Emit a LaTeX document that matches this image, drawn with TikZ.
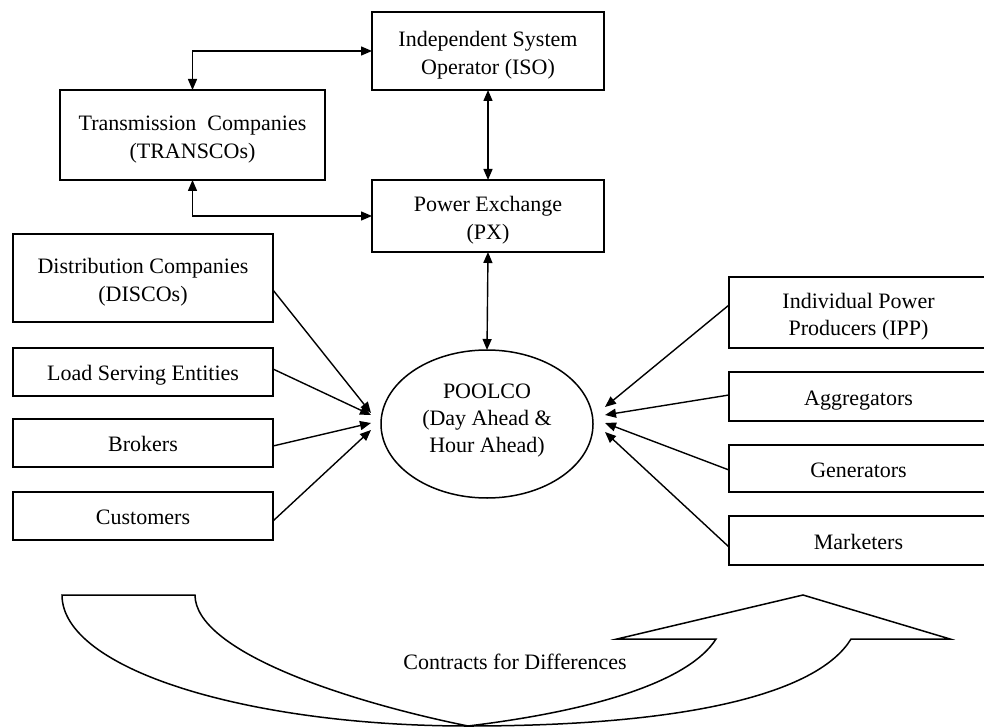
\documentclass[tikz,border=0pt]{standalone}
\usepackage{fontspec}
\setmainfont{Liberation Serif}
\usetikzlibrary{arrows.meta,shapes.geometric}
% centred block of lines, lowered slightly inside its frame
\newcommand{\boxlabel}[2][-2.1pt]{\raisebox{#1}[\height][\depth]{%
  \begin{tabular}{@{}c@{}}#2\end{tabular}}}
\begin{document}
\begin{tikzpicture}[x=0.5pt,y=-0.5pt,
  font=\fontsize{11}{13.75}\selectfont,
  every path/.style={line width=0.7pt},
  box/.style={draw,rectangle,inner sep=0pt,outer sep=0pt,line width=0.75pt},
  sidebox/.style={box,minimum width=130pt},
  pipe/.style={-{Triangle[length=5.5pt,width=4.5pt]}},
  twoway/.style={{Triangle[length=5.5pt,width=4.5pt]}-{Triangle[length=5.5pt,width=4.5pt]}}]
\useasboundingbox (0,0) rectangle (984,727);

% market operators
\node[box,minimum width=116pt,minimum height=39pt] (iso) at (488,51)
  {\boxlabel{Independent System\\Operator (ISO)}};
\node[box,minimum width=132.5pt,minimum height=45pt] (trans) at (192.5,135)
  {\boxlabel{Transmission\ \ Companies\\(TRANSCOs)}};
\node[box,minimum width=116pt,minimum height=36pt] (px) at (488,216)
  {\boxlabel{Power Exchange\\(PX)}};
\node[draw,ellipse,inner sep=0pt,outer sep=0pt,minimum width=106pt,
  minimum height=74pt,line width=0.75pt,font=\fontsize{11}{13.5}\selectfont]
  (pool) at (487,424)
  {\boxlabel[2pt]{POOLCO\\(Day Ahead \&\\Hour Ahead)}};

% buyers
\node[sidebox,minimum height=44pt] (disco) at (143,278)
  {\boxlabel{Distribution Companies\\(DISCOs)}};
\node[sidebox,minimum height=24pt] (lse) at (143,372) {\boxlabel[-1.6pt]{Load Serving Entities}};
\node[sidebox,minimum height=24pt] (brk) at (143,443) {\boxlabel[-1.6pt]{Brokers}};
\node[sidebox,minimum height=24pt] (cust) at (143,516) {\boxlabel[-1.6pt]{Customers}};

% sellers
\node[sidebox,minimum width=129.5pt,minimum height=35.5pt] (ipp) at (858.5,312.5)
  {\boxlabel{Individual Power\\Producers (IPP)}};
\node[sidebox,minimum width=129.5pt,minimum height=24.5pt] (agg) at (858.5,396.5)
  {\boxlabel[-1.6pt]{Aggregators}};
\node[sidebox,minimum width=129.5pt,minimum height=23.5pt] (gen) at (858.5,468.5)
  {\boxlabel[-1.6pt]{Generators}};
\node[sidebox,minimum width=129.5pt,minimum height=24.5pt] (mkt) at (858.5,540.5)
  {\boxlabel[-1.6pt]{Marketers}};

% operator links
\draw[twoway] (trans.north) |- (iso.west);
\draw[twoway] (trans.south) |- (px.west);
\draw[twoway] (iso.south) -- (px.north);
\draw[twoway] (px.south) -- (pool.north);

% buyers into the pool
\draw[pipe] ([yshift=-6pt]disco.east) -- ([xshift=-5pt,yshift=5.5pt]pool.west);
\draw[pipe] ([yshift=1.5pt]lse.east) -- ([xshift=-5pt,yshift=4.5pt]pool.west);
\draw[pipe] ([yshift=-1.5pt]brk.east) -- ([xshift=-5pt,yshift=0.5pt]pool.west);
\draw[pipe] ([yshift=-2.5pt]cust.east) -- ([xshift=-5pt,yshift=-3pt]pool.west);

% sellers into the pool
\draw[pipe] ([yshift=3.75pt]ipp.west) -- ([xshift=6pt,yshift=8.5pt]pool.east);
\draw[pipe] ([yshift=0.75pt]agg.west) -- ([xshift=6pt,yshift=4.5pt]pool.east);
\draw[pipe] ([yshift=-0.75pt]gen.west) -- ([xshift=6pt,yshift=0.5pt]pool.east);
\draw[pipe] ([yshift=-3.25pt]mkt.west) -- ([xshift=6pt,yshift=-4pt]pool.east);

% curved block arrow for contracts for differences
\draw[line width=0.75pt,line join=miter]
  (62,595) -- (195,595)
  .. controls (195,650) and (340,700) .. (468,726)
  .. controls (600,710) and (690,680) .. (716,639)
  -- (617,639) -- (803,595) -- (950,639) -- (851,639)
  .. controls (820,690) and (700,726) .. (468,726)
  .. controls (250,726) and (62,670) .. (62,595) -- cycle;
\node (cfd) at (515,662) {Contracts for Differences};
\end{tikzpicture}
\end{document}
